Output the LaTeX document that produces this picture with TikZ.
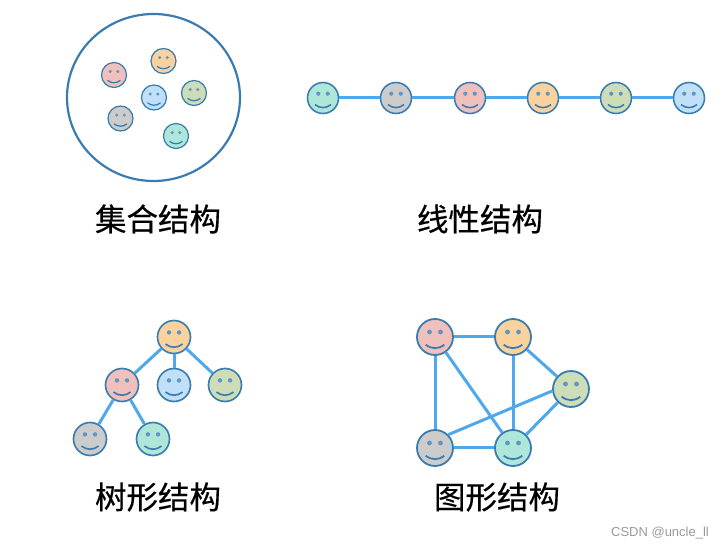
\documentclass[tikz,border=0pt]{standalone}
\usepackage{fontspec}
\usetikzlibrary{shapes.geometric}
\setmainfont{Noto Sans CJK SC}[FakeBold=0.4]
\newfontfamily\markfont{Liberation Sans}
\definecolor{rim}{HTML}{3A7CB0}
\definecolor{link}{HTML}{4FA8EC}
\definecolor{pink}{HTML}{F0C0BC}
\definecolor{peach}{HTML}{FAD29E}
\definecolor{sky}{HTML}{BFE0F8}
\definecolor{sage}{HTML}{CCDDB8}
\definecolor{ash}{HTML}{CCCCCC}
\definecolor{mint}{HTML}{AEE6DA}
\tikzset{
  face/.style 2 args={shape=circle,draw=rim,line width=#2*0.05pt,fill=#1,inner sep=0pt,minimum size=#2pt,
    path picture={
      \pgfmathsetmacro\u{#2/36}
      \begin{scope}[shift={(path picture bounding box.center)}]
        \fill[rim!80] (-5.5*\u,-5*\u) circle (2.4*\u);
        \fill[rim!80] (5.5*\u,-5*\u) circle (2.4*\u);
        \draw[rim,line width=#2*0.05pt] (-9.3*\u,7.7*\u) .. controls (-3.5*\u,12.3*\u) and (3.5*\u,12.3*\u) .. (9.3*\u,7.7*\u);
      \end{scope}
    }},
  linkline/.style={draw=link,line width=3pt},
  title/.style={font=\fontsize{31.5}{32}\selectfont,inner sep=0pt}
}
\begin{document}
\begin{tikzpicture}[x=1pt,y=-1pt]
  \useasboundingbox (0,0) rectangle (724,548);

  % set
  \node[shape=ellipse,draw=rim,line width=2.2pt,minimum width=173pt,minimum height=167pt,inner sep=0pt] (bag) at (153.5,97.5) {};
  \node[face={peach}{25}] (s1) at (163.5,61) {};
  \node[face={pink}{25}] (s2) at (114,75) {};
  \node[face={sky}{25}] (s3) at (154,97.5) {};
  \node[face={sage}{25}] (s4) at (194,93) {};
  \node[face={ash}{25}] (s5) at (120.5,118.5) {};
  \node[face={mint}{25}] (s6) at (176,136) {};
  \node[title] (settitle) at (158,219) {集合结构};

  % line
  \node[face={mint}{31}] (l1) at (323,98) {};
  \node[face={ash}{31}] (l2) at (396,98) {};
  \node[face={pink}{31}] (l3) at (470,98) {};
  \node[face={peach}{31}] (l4) at (543,98) {};
  \node[face={sage}{31}] (l5) at (616,98) {};
  \node[face={sky}{31}] (l6) at (689,98) {};
  \draw[linkline] (l1) to (l2);
  \draw[linkline] (l2) to (l3);
  \draw[linkline] (l3) to (l4);
  \draw[linkline] (l4) to (l5);
  \draw[linkline] (l5) to (l6);
  \node[title] (linetitle) at (480,219) {线性结构};

  % tree
  \node[face={peach}{33}] (t1) at (174,337) {};
  \node[face={pink}{33}] (t2) at (122,385) {};
  \node[face={sky}{33}] (t3) at (174,385) {};
  \node[face={sage}{33}] (t4) at (225,385) {};
  \node[face={ash}{33}] (t5) at (90,439) {};
  \node[face={mint}{33}] (t6) at (153,439) {};
  \draw[linkline] (t1) to (t2);
  \draw[linkline] (t1) to (t3);
  \draw[linkline] (t1) to (t4);
  \draw[linkline] (t2) to (t5);
  \draw[linkline] (t2) to (t6);
  \node[title] (treetitle) at (158,497) {树形结构};

  % graph
  \node[face={pink}{36}] (g1) at (435,337) {};
  \node[face={peach}{36}] (g2) at (513,337) {};
  \node[face={sage}{36}] (g3) at (571,389) {};
  \node[face={ash}{36}] (g4) at (435,448) {};
  \node[face={mint}{36}] (g5) at (513,448) {};
  \draw[linkline] (g1) to (g2);
  \draw[linkline] (g1) to (g4);
  \draw[linkline] (g1) to (g5);
  \draw[linkline] (g2) to (g3);
  \draw[linkline] (g2) to (g5);
  \draw[linkline] (g3.186) to (g4.45);
  \draw[linkline] (g3) to (g5);
  \draw[linkline] (g4) to (g5);
  \node[title] (graphtitle) at (497,497) {图形结构};

  \node[font=\markfont\fontsize{13}{13}\selectfont,text=black!40,inner sep=0pt] (mark) at (660,533) {CSDN @uncle\_ll};
\end{tikzpicture}
\end{document}
